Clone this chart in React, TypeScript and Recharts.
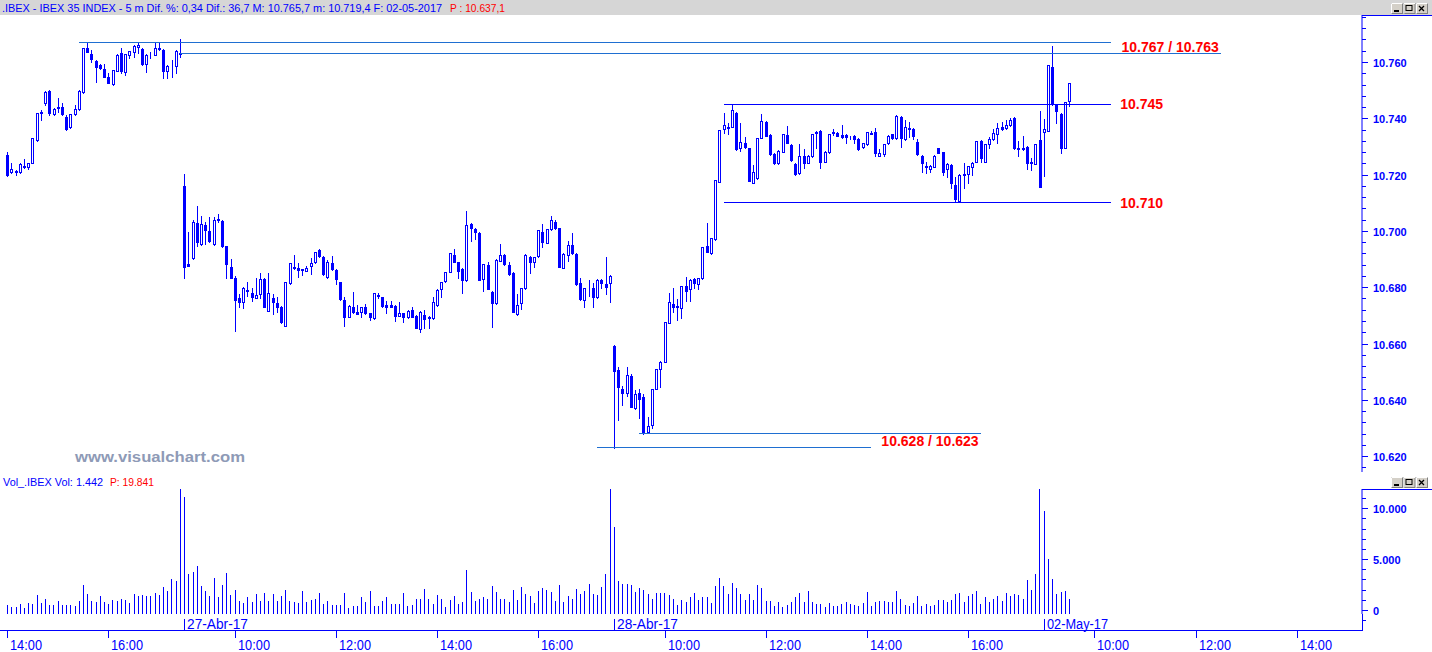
import React from 'react';
import { ComposedChart, Bar, XAxis, YAxis, ReferenceLine } from 'recharts';

const W = 1432;
const H = 652;
const BLUE = '#0000ff';
const RED = '#ff0000';
const LINE_BLUE = '#1f6fd1';
const SANS = "'Liberation Sans', Arial, sans-serif";
const NARROW = "'Liberation Sans Narrow', 'Arial Narrow', 'Liberation Sans', sans-serif";

// ---------- DATA: 5-minute candles [open, high, low, close] ----------
const D26_OHLC: number[][] = [
  [10727, 10728, 10719.5, 10720], [10721, 10724, 10720.5, 10722], [10721, 10721.5, 10720, 10721.2],
  [10720.8, 10724, 10720.5, 10723.7], [10722.8, 10725.4, 10722.5, 10723], [10722.8, 10724, 10721.9, 10724],
  [10724, 10733, 10724, 10732.9], [10732.3, 10742, 10732, 10741.8], [10742, 10742.9, 10739.4, 10742.3],
  [10745.5, 10749.6, 10744.7, 10749.4], [10749.7, 10750, 10741, 10741.8], [10741.4, 10743.6, 10741.2, 10743.4],
  [10743.6, 10747.3, 10742.3, 10743.9], [10743.9, 10745.3, 10741, 10741.4], [10740.6, 10741, 10735.8, 10736.2],
  [10736.8, 10741.6, 10736.5, 10741.4], [10741.4, 10744.7, 10741.2, 10743.2], [10743.2, 10750, 10743, 10749.7],
  [10749.2, 10765, 10749, 10764.9], [10764.9, 10767.2, 10763.5, 10763.7], [10762.8, 10764.2, 10760.1, 10761],
  [10760.4, 10760.8, 10753, 10758.3], [10758.9, 10759.2, 10757.5, 10757.8], [10757.5, 10759.2, 10754.6, 10754.8],
  [10754.8, 10756, 10752.5, 10752.7], [10752.2, 10757.3, 10751.8, 10757.1], [10756.9, 10762.7, 10756.7, 10762.5],
  [10763.1, 10764.9, 10756.2, 10756.9], [10756.6, 10763, 10755.5, 10762.8], [10762.5, 10764, 10761.5, 10763.9],
  [10763.7, 10765.9, 10761.9, 10765.7], [10765.2, 10766.6, 10763.3, 10766], [10764.6, 10765, 10759, 10759.3],
  [10759.2, 10762.7, 10756.6, 10762.5], [10762.8, 10763.7, 10761.3, 10763], [10762.6, 10766.6, 10762.4, 10764.9],
  [10764.9, 10767.2, 10764.3, 10764.5], [10764.3, 10764.6, 10754.2, 10756.9], [10756.9, 10758.8, 10754.2, 10758.6],
  [10758.1, 10760.7, 10754.8, 10758.2], [10758.6, 10764.1, 10756.2, 10763.9], [10763, 10768.1, 10761.9, 10763.2],
];

const D27_OHLC: number[][] = [
  [10716, 10720.1, 10683.4, 10687.3], [10688.1, 10699.7, 10687.4, 10687.6], [10690.3, 10704, 10690, 10703.1],
  [10702.7, 10708.8, 10694.7, 10696.2], [10695.2, 10705.4, 10695, 10702.3], [10702.1, 10703, 10695.5, 10700.3],
  [10700, 10705, 10696.2, 10696.4], [10695.3, 10705, 10695, 10703.8], [10703.8, 10706, 10703, 10704.2],
  [10703.5, 10703.8, 10694.4, 10694.6], [10694.6, 10694.8, 10683.4, 10688.1], [10687.2, 10690, 10683.2, 10683.4],
  [10683.2, 10684, 10664.4, 10675.4], [10676, 10677.5, 10673.1, 10674.9], [10674.6, 10680, 10672.5, 10679.6],
  [10678.8, 10681.7, 10677, 10679], [10677.8, 10679.6, 10675.1, 10676.6], [10676.3, 10683.2, 10676, 10677.2],
  [10677.5, 10684.9, 10676.3, 10682.8], [10682.9, 10683.2, 10672.8, 10673.1], [10671.7, 10684.9, 10671.5, 10677.8],
  [10676, 10677.6, 10670.4, 10674.9], [10674.5, 10676.6, 10671.3, 10673.1], [10673.1, 10673.4, 10667.3, 10667.5],
  [10666.4, 10682, 10666.2, 10681.8], [10681.4, 10688.7, 10681.2, 10688.5], [10687.3, 10691.4, 10686.5, 10686.7],
  [10686.7, 10688.5, 10683.7, 10686.2], [10686.2, 10686.6, 10684.3, 10686.4], [10685.9, 10687.5, 10685.6, 10686.7],
  [10687.5, 10690.3, 10684.6, 10688.5], [10688.9, 10692.6, 10688.7, 10692.4], [10693.1, 10693.5, 10690.8, 10691.2],
  [10690.7, 10691, 10684.4, 10684.6], [10683.8, 10689.7, 10683.2, 10688.9], [10688.5, 10691.2, 10686.2, 10686.4],
  [10686.1, 10686.4, 10681, 10682.8], [10681.7, 10682, 10675.6, 10675.8], [10675.5, 10676.6, 10666.3, 10669.5],
  [10669.5, 10673.8, 10669.3, 10673.3], [10672.9, 10678.4, 10671, 10671.3], [10671.3, 10673.7, 10670.4, 10670.6],
  [10671.3, 10673.1, 10669.5, 10672.9], [10672.9, 10674, 10670.6, 10670.8], [10670.8, 10671, 10668.3, 10669.5],
  [10669, 10678, 10668.8, 10677.8], [10677, 10678, 10676, 10677.1], [10676.4, 10676.7, 10672.9, 10673.3],
  [10673.7, 10675.2, 10671, 10673.1], [10673.6, 10675.1, 10672.8, 10673], [10673.3, 10673.6, 10668.1, 10669.9],
  [10669.9, 10674.6, 10669.6, 10670.7], [10670.7, 10671, 10667.8, 10669.3], [10669.3, 10671.9, 10669, 10671.5],
  [10671.9, 10672.9, 10669.3, 10669.5], [10669.8, 10670, 10665.4, 10665.6], [10665.2, 10671.5, 10664, 10671.3],
  [10670.1, 10671.9, 10665.6, 10668.7], [10669.5, 10669.8, 10665.6, 10668.9], [10669, 10676.4, 10668.8, 10674.8],
  [10673.7, 10679.2, 10673.5, 10679], [10679.3, 10682, 10676.6, 10681.7], [10682.3, 10685.5, 10682, 10685.3],
  [10685.5, 10692.2, 10685.3, 10692], [10691.4, 10693.6, 10688.9, 10689.1], [10688.8, 10689, 10683.4, 10685.9],
  [10686.5, 10686.8, 10678.1, 10682.6], [10682.6, 10707, 10682.3, 10702.1], [10702.5, 10702.8, 10696.5, 10701.1],
  [10700.7, 10701, 10697, 10699.5], [10699.2, 10699.5, 10682.4, 10682.6], [10682.8, 10688.3, 10678.8, 10688.1],
  [10687.8, 10688.8, 10679.3, 10679.5], [10678.3, 10678.6, 10666, 10674.5], [10674.5, 10690, 10674.2, 10689.7],
  [10689.4, 10695.3, 10689.2, 10691.4], [10691.4, 10691.7, 10687.9, 10688.1], [10687.9, 10689.1, 10684.5, 10684.7],
  [10685, 10685.3, 10671.1, 10671.3], [10670.4, 10677.6, 10670.2, 10673.7], [10674.3, 10679.8, 10672.2, 10679.6],
  [10679.6, 10691.8, 10679.4, 10691.4], [10690.8, 10691.2, 10685.2, 10689.1], [10688.9, 10690.8, 10687.3, 10690.6],
  [10691.1, 10700.5, 10690.9, 10700.3], [10699.7, 10702.4, 10694.4, 10696.2], [10695.8, 10700.8, 10695.6, 10700.6],
  [10700.6, 10705.3, 10700.4, 10703.9], [10703, 10703.9, 10700.7, 10700.9], [10700.9, 10701.2, 10687.1, 10687.3],
  [10686.9, 10692, 10686.7, 10691.8], [10691.5, 10696.4, 10689.3, 10695], [10695, 10699.4, 10691.9, 10692.1],
  [10691.8, 10692, 10680.9, 10681.1], [10681.4, 10683.4, 10675.6, 10675.8], [10675.5, 10679.8, 10672.9, 10679.6],
  [10679.9, 10682.6, 10676.9, 10680.1], [10679.6, 10681.4, 10673.1, 10676.4], [10676.4, 10682.8, 10676.2, 10682.6],
  [10682.6, 10682.9, 10679.6, 10681.6], [10681.1, 10690.8, 10677.5, 10680], [10681.4, 10684.2, 10674.9, 10684],
];

const D28_OHLC: number[][] = [
  [10659.1, 10659.3, 10623, 10650.3], [10650.6, 10651.8, 10633, 10644.7], [10643.8, 10645, 10638, 10642.3],
  [10642.3, 10651.8, 10641.5, 10648.8], [10648.5, 10649.3, 10637.4, 10637.6], [10637, 10643.5, 10636.6, 10642.1],
  [10642.3, 10644, 10633.6, 10640.3], [10640.9, 10642, 10628, 10628.5], [10628.7, 10634, 10628.3, 10630.7],
  [10631.1, 10644, 10629.9, 10643.7], [10644, 10651.1, 10643.8, 10650.9], [10650.8, 10653.8, 10644.7, 10653.5],
  [10653.5, 10667.7, 10653.3, 10667.5], [10667.4, 10677.8, 10667.2, 10674.6], [10674.2, 10679.8, 10671.3, 10672.9],
  [10673.3, 10675.8, 10668.3, 10672.9], [10672.5, 10680.5, 10669.2, 10680.3], [10680.4, 10683.5, 10675.2, 10678.8],
  [10679.3, 10682.8, 10675.2, 10682.6], [10683, 10683.3, 10679.6, 10681.4], [10681, 10683.4, 10679.3, 10683.2],
  [10683.2, 10694.4, 10683, 10694.2], [10694.6, 10702.9, 10692.4, 10692.6], [10692, 10697.6, 10691.8, 10697.4],
  [10697.1, 10718.2, 10696.9, 10718], [10717.5, 10736, 10717.3, 10735.8], [10736.1, 10741.8, 10734.7, 10737.6],
  [10736.7, 10738.2, 10734.3, 10736.9], [10737, 10744.7, 10736.8, 10743], [10741.8, 10742.2, 10728.8, 10729],
  [10729.3, 10738.2, 10728.4, 10731.7], [10731.1, 10733.3, 10729.5, 10729.9], [10729.3, 10729.6, 10717.6, 10717.8],
  [10717.1, 10723.4, 10716.9, 10720.8], [10718.7, 10733.1, 10718.5, 10732.9], [10733.1, 10741.5, 10732.9, 10739],
  [10738.6, 10738.9, 10733.6, 10733.8], [10734, 10734.3, 10727.1, 10727.3], [10727.3, 10727.6, 10723.8, 10724.2],
  [10724.2, 10728.6, 10723.8, 10728.4], [10728.1, 10734.5, 10727.9, 10734.3], [10734, 10737.3, 10731.1, 10731.3],
  [10730.5, 10730.8, 10725, 10725.2], [10723.8, 10724.1, 10719.9, 10720.1], [10720.5, 10730.8, 10720.3, 10726.6],
  [10726.6, 10729.1, 10722.2, 10724.2], [10724.2, 10726.8, 10724, 10726.6], [10726.6, 10734.6, 10726.4, 10734.4],
  [10735.2, 10735.5, 10729.3, 10734.7], [10735.6, 10735.9, 10722.2, 10724.6], [10724.6, 10728.4, 10724.4, 10728.2],
  [10727.9, 10734.6, 10727.7, 10734.4], [10734.9, 10736.2, 10734, 10735.1], [10734.9, 10735.2, 10733.6, 10733.8],
  [10734, 10737.6, 10732.9, 10733.5], [10734, 10734.3, 10731.1, 10733.4], [10733.3, 10733.6, 10732.5, 10733.4],
  [10733.7, 10734, 10731.1, 10732.5], [10732.6, 10732.9, 10728.9, 10729.1], [10729.7, 10731.3, 10729.5, 10731.1],
  [10730.8, 10735.2, 10730.6, 10735], [10734.6, 10735.6, 10734.3, 10734.8], [10735, 10736.4, 10726.5, 10727.6],
  [10726.7, 10729, 10726.5, 10727.6], [10727.3, 10731, 10726.5, 10730.8], [10731.1, 10734, 10730.9, 10733.8],
  [10734.3, 10734.6, 10732.7, 10732.9], [10732.9, 10741, 10732.7, 10740.8], [10740.4, 10740.7, 10729.7, 10733.1],
  [10732.6, 10739.4, 10732.4, 10736.8], [10736.3, 10738.8, 10733.5, 10736.5], [10736.1, 10736.4, 10732.6, 10733.8],
  [10731.5, 10732.6, 10727.1, 10727.3], [10726.6, 10726.9, 10721, 10724], [10722.7, 10724.6, 10720.7, 10722.9],
  [10722, 10723.3, 10721, 10723], [10722.8, 10726.8, 10722.6, 10726.6], [10729.3, 10729.6, 10727.6, 10727.8],
  [10727.9, 10728.2, 10719.9, 10721], [10721.9, 10724, 10719.3, 10723.7], [10723.4, 10723.7, 10715.1, 10716.9],
  [10716.2, 10719.3, 10710.4, 10711.2], [10710.6, 10720.1, 10710.4, 10719.9], [10720, 10724, 10715.1, 10720.2],
  [10720.1, 10723.2, 10716.9, 10723], [10722.6, 10724.4, 10719.9, 10724.2], [10724.6, 10732.1, 10724.4, 10731.9],
  [10731.9, 10732.2, 10724.6, 10726], [10724.6, 10731, 10724.4, 10730.8], [10730.9, 10733.4, 10729.6, 10732.5],
  [10732.5, 10736.1, 10732.3, 10734.7], [10734.4, 10738.2, 10731.1, 10736.4], [10736.8, 10738.8, 10736, 10736.3],
  [10736.4, 10739.4, 10736.2, 10737.6], [10737.6, 10740.2, 10737.4, 10739.4], [10740, 10740.3, 10729.1, 10729.3],
  [10729.2, 10731.9, 10726.6, 10729.4], [10729.6, 10733.8, 10728.8, 10729], [10729.9, 10730.2, 10722, 10724.2],
  [10724.4, 10725.8, 10721.6, 10724], [10723.8, 10731, 10723.6, 10730.8], [10732.3, 10742.6, 10715.5, 10715.7],
];

const D02_OHLC: number[][] = [
  [10735.2, 10739.8, 10719.4, 10736.1], [10735.6, 10759.1, 10735.4, 10758.9], [10758.1, 10765.7, 10744.9, 10745.1],
  [10744.7, 10745, 10738.2, 10742.6], [10741.5, 10741.8, 10727.8, 10729.6], [10729.6, 10745.9, 10729.4, 10745.7],
  [10746.3, 10752.6, 10744.5, 10752.4],
];

// ---------- DATA: volume per candle ----------
const D26_VOL = [
  914, 711, 711, 1016, 609, 1117, 1016, 1828, 1117, 1524, 914, 914, 1321, 914, 914, 914, 813, 1321, 2844, 1930,
  1321, 1219, 1727, 1219, 1016, 1422, 1321, 1524, 1422, 1117, 1930, 1727, 1828, 1727, 1727, 2032, 1828, 2641, 2235, 3454,
  3251, 15200,
];
const D27_VOL = [
  11479, 3962, 4165, 4673, 2743, 2235, 1727, 3555, 1625, 2844,
  4063, 1828, 2336, 1321, 1117, 1625, 1219, 1930, 1321, 2032,
  1321, 1930, 1321, 1727, 2336, 1321, 1219, 1117, 2235, 1219,
  1422, 1524, 2032, 1016, 1321, 914, 914, 914, 2032, 609,
  813, 813, 1625, 1219, 2235, 813, 813, 1321, 1625, 1016,
  1016, 1016, 2032, 813, 914, 1524, 1524, 2438, 1524, 1016,
  1828, 1524, 711, 1422, 1727, 1016, 1219, 4368, 2133, 1321,
  1524, 1625, 1524, 2743, 2133, 1524, 1524, 1219, 2336, 1422,
  2641, 1930, 1727, 1117, 2235, 2540, 2336, 2133, 1321, 2844,
  1219, 1727, 1524, 2438, 1930, 2235, 2946, 1930, 1828, 2641,
  3962, 16500,
];
const D28_VOL = [
  8533, 3251, 2946, 2946, 2844, 2133, 2540, 2336, 1930, 1524,
  2032, 2032, 2032, 1828, 1524, 914, 1422, 1219, 1625, 2032,
  1422, 1625, 1625, 1117, 2743, 3555, 2743, 1930, 3047, 2540,
  1930, 1422, 1930, 1422, 2844, 2540, 1321, 1321, 813, 1219,
  711, 914, 1219, 1625, 2032, 1219, 2235, 1219, 1016, 1016,
  711, 1117, 813, 813, 1016, 1219, 1016, 914, 813, 1117,
  2133, 813, 1219, 1321, 1321, 1219, 1219, 2235, 1524, 914,
  813, 1117, 1727, 813, 1016, 813, 914, 1422, 1422, 1219,
  1422, 1930, 2032, 1219, 1727, 1930, 2235, 1016, 1625, 1219,
  1524, 1727, 1321, 2032, 1727, 1930, 1828, 1524, 3352, 2336,
  3962, 15800,
];
const D02_VOL = [10158, 5384, 3454, 1930, 2133, 2235, 1442];

// ---------- AXIS LABELS ----------
const TIME_TICK_IDX = [0, 24, 54, 78, 102, 126, 156, 180, 204, 228, 258, 282, 306];
const TIME_TICK_LABELS = ['14:00', '16:00', '10:00', '12:00', '14:00', '16:00', '10:00', '12:00', '14:00', '16:00', '10:00', '12:00', '14:00'];
const DATE_TICK_IDX = [42, 144, 246];
const DATE_TICK_LABELS = ['27-Abr-17', '28-Abr-17', '02-May-17'];
const PRICE_LABELED = [10620, 10640, 10660, 10680, 10700, 10720, 10740, 10760];
const VOL_LABELED = [0, 5000, 10000];

// ---------- SUPPORT / RESISTANCE LEVELS ----------
const LEVEL_VALUES = [10767, 10763, 10745, 10710, 10628, 10623];
const LEVEL_FROM = [17, 41, 170, 170, 150, 140];
const LEVEL_TO = [262, 288, 262, 262, 231, 205];
const LEVEL_LABELS = ['', '10.767 / 10.763', '10.745', '10.710', '10.628 / 10.623', ''];

const HEADER_BLUE = '.IBEX - IBEX 35 INDEX - 5 m Dif. %: 0,34 Dif.: 36,7 M: 10.765,7 m: 10.719,4 F: 02-05-2017';
const HEADER_RED = 'P : 10.637,1';
const VOL_HEADER_BLUE = 'Vol_.IBEX Vol: 1.442';
const VOL_HEADER_RED = 'P: 19.841';

// ---------- BUILD TABLE ----------
const FIRST_IDX = -1;
const LAST_IDX = 321;
const OHLC = [...D26_OHLC, ...D27_OHLC, ...D28_OHLC, ...D02_OHLC];
const VOL = [...D26_VOL, ...D27_VOL, ...D28_VOL, ...D02_VOL];

const ROWS: any[] = [];
for (let i = FIRST_IDX; i <= LAST_IDX; i++) {
  const k = i >= 0 && i < OHLC.length ? OHLC[i] : null;
  if (k) ROWS.push({ idx: i, o: k[0], h: k[1], l: k[2], c: k[3], range: [k[2], k[1]], vol: VOL[i] });
  else ROWS.push({ idx: i, range: null, vol: null });
}

const PRICE_TICKS: number[] = [];
for (let v = 10616; v <= 10776; v += 4) PRICE_TICKS.push(v);
const VOL_TICKS: number[] = [];
for (let v = 0; v <= 11000; v += 1000) VOL_TICKS.push(v);

// ---------- LAYOUT ----------
const AXIS_W = 70;
const AXIS_X = W - AXIS_W; // 1362
const PRICE_TOP = 15;
const PRICE_H = 457;
const PRICE_DOMAIN: [number, number] = [10614.36, 10776.7];
const VOL_TOP = 489;
const VOL_PLOT_H = 125;
const VOL_AXIS_H = 38;
const VOL_DOMAIN: [number, number] = [0, 12291];
const VOL_TICK_SHIFT = -4; // the reference draws its volume scale 4px above the bar base
const TIME_LINE_Y = 631;

const fmtThousands = (v: number) => {
  if (v < 1000) return String(v);
  const th = Math.floor(v / 1000);
  const rest = String(v % 1000).padStart(3, '0');
  return `${th}.${rest}`;
};

const Candle = (props: any) => {
  const { x, y, width, height, payload } = props;
  if (!payload || payload.o == null || x == null || y == null) return null;
  const { o, h, l, c } = payload;
  const span = h - l;
  const toY = (v: number) => (span > 0 ? y + ((h - v) / span) * height : y);
  const cx = Math.round(x + width / 2);
  const yH = Math.round(toY(h));
  const yL = Math.round(toY(l));
  const top = Math.round(Math.min(toY(o), toY(c)));
  const bot = Math.round(Math.max(toY(o), toY(c)));
  const bull = c >= o;
  return (
    <g>
      <rect x={cx} y={yH} width={1} height={Math.max(yL - yH + 1, 1)} fill={BLUE} shapeRendering="crispEdges" />
      {bull ? (
        <rect x={cx - 0.5} y={top + 0.5} width={2} height={Math.max(bot - top, 0)} fill="#ffffff" stroke={BLUE} strokeWidth={1} shapeRendering="crispEdges" />
      ) : (
        <rect x={cx - 1} y={top} width={3} height={Math.max(bot - top + 1, 1)} fill={BLUE} shapeRendering="crispEdges" />
      )}
    </g>
  );
};

const VolBar = (props: any) => {
  const { x, y, width, height } = props;
  if (x == null || y == null || !height || height <= 0) return null;
  const cx = Math.round(x + width / 2);
  return <rect x={cx} y={Math.round(y)} width={1} height={Math.round(height)} fill={BLUE} shapeRendering="crispEdges" />;
};

const AxisTick = ({ y, label }: { y: number; label: string | null }) => {
  const yy = Math.round(y) + 0.5;
  return (
    <g>
      <line x1={AXIS_X} x2={AXIS_X + (label != null ? 6 : 4)} y1={yy} y2={yy} stroke={BLUE} strokeWidth={1} shapeRendering="crispEdges" />
      {label != null && (
        <text x={AXIS_X + 11} y={yy + 4} fill={BLUE} fontSize={11} fontWeight="bold" fontFamily={SANS}>
          {label}
        </text>
      )}
    </g>
  );
};

const PriceTick = (props: any) => {
  const v = props.payload.value as number;
  return <AxisTick y={props.y} label={PRICE_LABELED.includes(v) ? fmtThousands(v) : null} />;
};

const VolTick = (props: any) => {
  const v = props.payload.value as number;
  return <AxisTick y={props.y + VOL_TICK_SHIFT} label={VOL_LABELED.includes(v) ? fmtThousands(v) : null} />;
};

const TimeTick = (props: any) => {
  const { x, payload } = props;
  const i = payload.value as number;
  const cx = Math.round(x) + 0.5;
  const ly = TIME_LINE_Y - VOL_TOP; // local chart coords
  const t = TIME_TICK_IDX.indexOf(i);
  if (t >= 0) {
    return (
      <g>
        <line x1={cx} x2={cx} y1={ly} y2={ly + 7} stroke={BLUE} shapeRendering="crispEdges" />
        <text x={cx + 2.5} y={ly + 19} fill={BLUE} fontSize={14} fontFamily={NARROW} textLength={32} lengthAdjust="spacingAndGlyphs">
          {TIME_TICK_LABELS[t]}
        </text>
      </g>
    );
  }
  const d = DATE_TICK_IDX.indexOf(i);
  if (d >= 0) {
    return (
      <g>
        <line x1={cx} x2={cx} y1={ly - 12} y2={ly} stroke={BLUE} shapeRendering="crispEdges" />
        <text x={cx + 2.5} y={ly - 2} fill={BLUE} fontSize={14} fontFamily={NARROW} textLength={61} lengthAdjust="spacingAndGlyphs">
          {DATE_TICK_LABELS[d]}
        </text>
      </g>
    );
  }
  return null;
};

const levelLabel = (k: number) => (p: any) => {
  const vb = p.viewBox || {};
  const text = LEVEL_LABELS[k];
  if (!text || vb.x == null) return null;
  const x2 = vb.x + (vb.width || 0);
  const y = vb.y;
  let tx = x2 + 9;
  let ty = y + 5;
  let anchor: 'start' | 'end' = 'start';
  if (text.includes('/')) {
    anchor = 'end';
    tx = x2 - 2;
    ty = k === 1 ? y - 2 : y + 12;
  }
  return (
    <text x={tx} y={ty} textAnchor={anchor} fill={RED} fontSize={14} fontWeight="bold" fontFamily={SANS}>
      {text}
    </text>
  );
};

const WinButtons = ({ top }: { top: number }) => (
  <svg style={{ position: 'absolute', left: 1391, top }} width={38} height={11}>
    {[0, 1, 2].map((k) => {
      const bx = k * 12.5;
      return (
        <g key={k}>
          <rect x={bx + 0.5} y={0.5} width={11} height={10} fill="#d4d0c8" stroke="#808080" />
          <line x1={bx + 0.5} x2={bx + 11.5} y1={0.5} y2={0.5} stroke="#ffffff" />
          <line x1={bx + 0.5} x2={bx + 0.5} y1={0.5} y2={10.5} stroke="#ffffff" />
          {k === 0 && <rect x={bx + 3} y={7} width={5} height={2} fill="#000" />}
          {k === 1 && <rect x={bx + 2.5} y={2.5} width={6} height={5} fill="none" stroke="#000" />}
          {k === 2 && (
            <path d={`M${bx + 3} 3 L${bx + 8} 8 M${bx + 8} 3 L${bx + 3} 8`} stroke="#000" strokeWidth={1.3} />
          )}
        </g>
      );
    })}
  </svg>
);

export default function App() {
  return (
    <div style={{ position: 'absolute', left: 0, top: 0, width: W, height: H, background: '#ffffff', overflow: 'hidden' }}>
      {/* window title bar */}
      <svg style={{ position: 'absolute', left: 0, top: 0 }} width={W} height={15}>
        <rect x={0} y={0} width={W} height={15} fill="#d6d6d6" />
        <text x={2} y={12} fill={BLUE} fontSize={11} fontFamily={NARROW} textLength={440} lengthAdjust="spacingAndGlyphs">
          {HEADER_BLUE}
        </text>
        <text x={450} y={12} fill={RED} fontSize={11} fontFamily={NARROW} textLength={55} lengthAdjust="spacingAndGlyphs">
          {HEADER_RED}
        </text>
      </svg>
      <WinButtons top={3} />

      {/* price panel */}
      <div style={{ position: 'absolute', left: 0, top: PRICE_TOP }}>
        <ComposedChart width={W} height={PRICE_H} data={ROWS} margin={{ top: 0, right: 0, bottom: 0, left: 1 }} barCategoryGap={0}>
          <XAxis dataKey="idx" type="category" hide />
          <YAxis
            orientation="right"
            width={AXIS_W}
            domain={PRICE_DOMAIN}
            allowDataOverflow
            ticks={PRICE_TICKS}
            interval={0}
            tickLine={false}
            axisLine={{ stroke: BLUE }}
            tick={(p: any) => <PriceTick {...p} />}
          />
          <Bar dataKey="range" isAnimationActive={false} shape={(p: any) => <Candle {...p} />} />
          {LEVEL_VALUES.map((v, k) => (
            <ReferenceLine
              key={k}
              segment={[{ x: LEVEL_FROM[k], y: v }, { x: LEVEL_TO[k], y: v }]}
              stroke={k === 2 || k === 3 ? BLUE : LINE_BLUE}
              strokeWidth={1}
              shapeRendering="crispEdges"
              ifOverflow="visible"
              label={levelLabel(k)}
            />
          ))}
        </ComposedChart>
      </div>
      {/* axis top borders */}
      <div style={{ position: 'absolute', left: AXIS_X, top: PRICE_TOP, width: W - AXIS_X, height: 1, background: BLUE }} />
      <div style={{ position: 'absolute', left: AXIS_X, top: VOL_TOP, width: W - AXIS_X, height: 1, background: BLUE }} />

      {/* watermark */}
      <svg style={{ position: 'absolute', left: 0, top: 448 }} width={300} height={20}>
        <text x={75} y={14} fill="#8e9ab6" fontSize={14} fontWeight="bold" fontFamily={SANS} textLength={170} lengthAdjust="spacingAndGlyphs">
          www.visualchart.com
        </text>
      </svg>

      {/* volume header */}
      <svg style={{ position: 'absolute', left: 0, top: 474 }} width={300} height={15}>
        <text x={3} y={12} fill={BLUE} fontSize={11} fontFamily={NARROW} textLength={100} lengthAdjust="spacingAndGlyphs">
          {VOL_HEADER_BLUE}
        </text>
        <text x={110} y={12} fill={RED} fontSize={11} fontFamily={NARROW} textLength={44} lengthAdjust="spacingAndGlyphs">
          {VOL_HEADER_RED}
        </text>
      </svg>
      <WinButtons top={477} />

      {/* volume panel + time axis */}
      <div style={{ position: 'absolute', left: 0, top: VOL_TOP }}>
        <ComposedChart width={W} height={VOL_PLOT_H + VOL_AXIS_H} data={ROWS} margin={{ top: 0, right: 0, bottom: 0, left: 1 }}>
          <XAxis
            dataKey="idx"
            type="category"
            height={VOL_AXIS_H}
            axisLine={false}
            tickLine={false}
            ticks={[...TIME_TICK_IDX, ...DATE_TICK_IDX]}
            interval={0}
            tick={(p: any) => <TimeTick {...p} />}
          />
          <YAxis
            orientation="right"
            width={AXIS_W}
            domain={VOL_DOMAIN}
            allowDataOverflow
            ticks={VOL_TICKS}
            interval={0}
            tickLine={false}
            axisLine={{ stroke: BLUE }}
            tick={(p: any) => <VolTick {...p} />}
          />
          <Bar dataKey="vol" isAnimationActive={false} shape={(p: any) => <VolBar {...p} />} />
        </ComposedChart>
      </div>
      {/* time axis line and axis extension below the volume panel */}
      <div style={{ position: 'absolute', left: 0, top: TIME_LINE_Y - 1, width: AXIS_X + 1, height: 1, background: BLUE }} />
      <div style={{ position: 'absolute', left: AXIS_X, top: VOL_TOP + VOL_PLOT_H, width: 1, height: TIME_LINE_Y - VOL_TOP - VOL_PLOT_H, background: BLUE }} />
      <div style={{ position: 'absolute', left: AXIS_X, top: 620, width: 4, height: 1, background: BLUE }} />
    </div>
  );
}
